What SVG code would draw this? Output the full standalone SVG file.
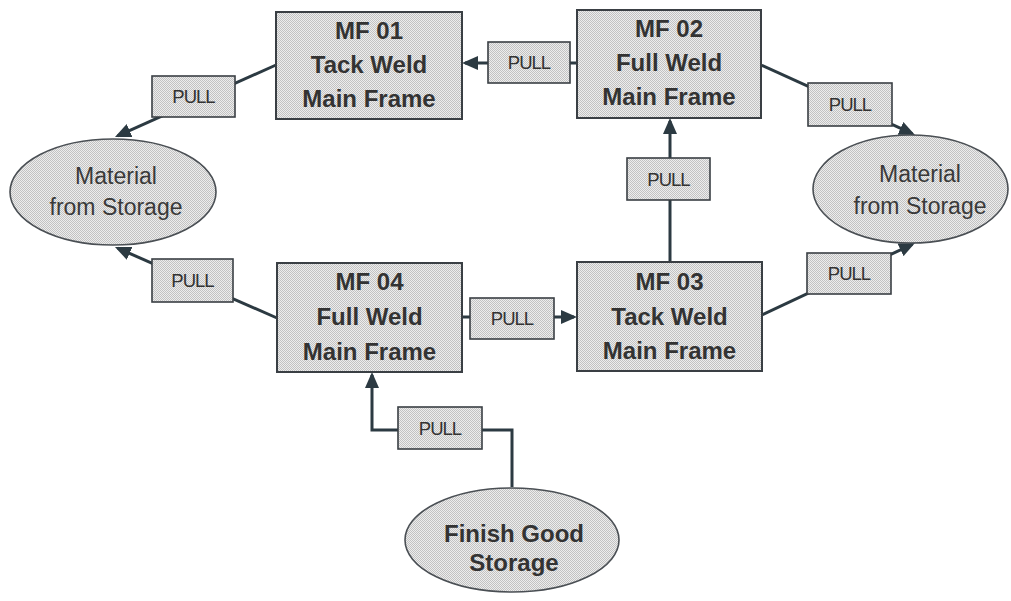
<svg xmlns="http://www.w3.org/2000/svg" width="1011" height="601" viewBox="0 0 1011 601">
<style>
.box{fill:url(#dots);stroke:#3a3f44;stroke-width:2}
.oval{fill:url(#dots);stroke:#4a4f54;stroke-width:1.6}
.pull{fill:url(#dots);stroke:#3a3f44;stroke-width:1.6}
.mf{font-family:"Liberation Sans",Arial,sans-serif;font-weight:bold;font-size:24px;fill:#333;text-anchor:middle}
.ov{font-family:"Liberation Sans",Arial,sans-serif;font-size:23px;fill:#3a3a3a;text-anchor:middle}
.fg{font-family:"Liberation Sans",Arial,sans-serif;font-weight:bold;font-size:24px;fill:#333;text-anchor:middle}
.pt{font-family:"Liberation Sans",Arial,sans-serif;font-size:18.5px;fill:#333;text-anchor:middle;letter-spacing:-1px}
.conn{fill:none;stroke:#2c3a42;stroke-width:3}
.arr{marker-end:url(#ah)}
</style>
<defs>
<pattern id="dots" width="2" height="2" patternUnits="userSpaceOnUse">
<rect width="2" height="2" fill="#ededed"/>
<rect width="1" height="1" fill="#c2c2c2"/>
<rect x="1" y="1" width="1" height="1" fill="#c2c2c2"/>
</pattern>
<marker id="ah" viewBox="0 0 16 14" refX="13" refY="7" markerWidth="16" markerHeight="14" markerUnits="userSpaceOnUse" orient="auto">
<path d="M0,0 L16,7 L0,14 z" fill="#2c3a42"/>
</marker>
</defs>
<rect width="1011" height="601" fill="#ffffff"/>
<g id="connectors">
<path class="conn arr" d="M276,65 L117.7,135.8"/>
<path class="conn arr" d="M577,63 L465,63"/>
<path class="conn arr" d="M761,65 L912.3,133.7"/>
<path class="conn arr" d="M670,262 L670,121"/>
<path class="conn arr" d="M762,315 L912.3,244.3"/>
<path class="conn arr" d="M277,318 L117.7,248.2"/>
<path class="conn arr" d="M462,317 L574,317"/>
<path class="conn arr" d="M512,487 V430 H372 V375"/>
</g>
<g id="mf01">
<rect class="box" x="276" y="12" width="186" height="107"/>
<text class="mf" x="369" y="39">MF 01</text>
<text class="mf" x="369" y="73">Tack Weld</text>
<text class="mf" x="369" y="107">Main Frame</text>
</g>
<g id="mf02">
<rect class="box" x="577" y="10" width="184" height="108"/>
<text class="mf" x="669" y="37">MF 02</text>
<text class="mf" x="669" y="71">Full Weld</text>
<text class="mf" x="669" y="105">Main Frame</text>
</g>
<g id="mf03">
<rect class="box" x="577" y="262" width="185" height="109"/>
<text class="mf" x="669.5" y="290">MF 03</text>
<text class="mf" x="669.5" y="325">Tack Weld</text>
<text class="mf" x="669.5" y="359">Main Frame</text>
</g>
<g id="mf04">
<rect class="box" x="277" y="263" width="185" height="109"/>
<text class="mf" x="369.5" y="290">MF 04</text>
<text class="mf" x="369.5" y="325">Full Weld</text>
<text class="mf" x="369.5" y="360">Main Frame</text>
</g>
<g id="storage-left">
<ellipse class="oval" cx="113" cy="192" rx="103" ry="53"/>
<text class="ov" x="116" y="184">Material</text>
<text class="ov" x="116" y="215">from Storage</text>
</g>
<g id="storage-right">
<ellipse class="oval" cx="910.5" cy="189" rx="97.5" ry="54"/>
<text class="ov" x="920" y="182">Material</text>
<text class="ov" x="920" y="214">from Storage</text>
</g>
<g id="finish-good">
<ellipse class="oval" cx="512" cy="540" rx="107" ry="52"/>
<text class="fg" x="514" y="542">Finish Good</text>
<text class="fg" x="514" y="571">Storage</text>
</g>
<g id="pull-1">
<rect class="pull" x="152" y="76" width="83" height="41"/>
<text class="pt" x="193.5" y="103">PULL</text>
</g>
<g id="pull-2">
<rect class="pull" x="488" y="42" width="82" height="41"/>
<text class="pt" x="529" y="69">PULL</text>
</g>
<g id="pull-3">
<rect class="pull" x="808" y="83" width="84" height="43"/>
<text class="pt" x="850" y="111">PULL</text>
</g>
<g id="pull-4">
<rect class="pull" x="627" y="158" width="83" height="42"/>
<text class="pt" x="668.5" y="185.5">PULL</text>
</g>
<g id="pull-5">
<rect class="pull" x="807" y="253" width="84" height="41"/>
<text class="pt" x="849" y="280">PULL</text>
</g>
<g id="pull-6">
<rect class="pull" x="152" y="259" width="81" height="43"/>
<text class="pt" x="192.5" y="287">PULL</text>
</g>
<g id="pull-7">
<rect class="pull" x="470" y="298" width="84" height="41"/>
<text class="pt" x="512" y="325">PULL</text>
</g>
<g id="pull-8">
<rect class="pull" x="398" y="407" width="84" height="42"/>
<text class="pt" x="440" y="434.5">PULL</text>
</g>
</svg>
